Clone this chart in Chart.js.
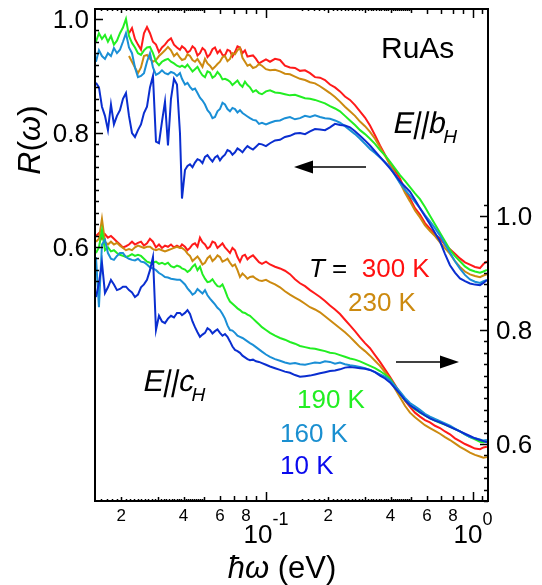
<!DOCTYPE html>
<html>
<head>
<meta charset="utf-8">
<script src="https://cdn.jsdelivr.net/npm/chart.js@4.4.0/dist/chart.umd.min.js"></script>
<style>
  html, body { margin: 0; padding: 0; background: #fff; }
</style>
</head>
<body>
<canvas id="chart" width="542" height="585"></canvas>
<script>
// photon energy (eV)
const energy = [0.01509, 0.01560, 0.01613, 0.01668, 0.01724, 0.01783, 0.01843, 0.01906, 0.01971, 0.02038,
  0.02107, 0.02179, 0.02253, 0.02329, 0.02408, 0.02490, 0.02574, 0.02662, 0.02752, 0.02845,
  0.02942, 0.03042, 0.03145, 0.03252, 0.03362, 0.03476, 0.03594, 0.03716, 0.03842, 0.03929,
  0.04062, 0.04177, 0.04295, 0.04416, 0.04540, 0.04668, 0.04799, 0.04935, 0.05074, 0.05217,
  0.05364, 0.05515, 0.05671, 0.05831, 0.05995, 0.06164, 0.06338, 0.06517, 0.06700, 0.06889,
  0.07084, 0.07284, 0.07489, 0.07700, 0.07917, 0.08140, 0.08370, 0.08655, 0.08950, 0.09252,
  0.09565, 0.1000, 0.1046, 0.1106, 0.1169, 0.1235, 0.1306, 0.1381, 0.1460, 0.1544,
  0.1632, 0.1725, 0.1824, 0.1928, 0.2038, 0.2155, 0.2278, 0.2408, 0.2546, 0.2692,
  0.2846, 0.3009, 0.3181, 0.3363, 0.3555, 0.3758, 0.3972, 0.4199, 0.4440, 0.4694,
  0.4963, 0.5246, 0.5546, 0.5863, 0.6199, 0.6553, 0.6928, 0.7324, 0.7743, 0.8186,
  0.8654, 0.9149, 0.9672, 1.0226, 1.081, 1.1237, 1.168];

// E||b_H, left axis
const bH300 = [null, null, null, null, null, null, null, null, null, null,
  null, 0.975, 0.984, 0.965, 0.955, 0.946, 0.975, 0.986, 0.975, 0.960,
  0.955, 0.942, 0.950, 0.955, 0.962, 0.966, 0.955, 0.950, 0.946, 0.952,
  0.948, 0.941, 0.944, 0.952, 0.948, 0.936, 0.940, 0.949, 0.945, 0.933,
  0.938, 0.947, 0.950, 0.940, 0.945, 0.937, 0.936, 0.946, 0.944, 0.934,
  0.942, 0.952, 0.950, 0.940, 0.945, 0.934, 0.935, 0.936, 0.930, 0.922,
  0.925, 0.929, 0.925, 0.930, 0.928, 0.918, 0.915, 0.914, 0.909, 0.910,
  0.905, 0.898, 0.897, 0.893, 0.885, 0.880, 0.873, 0.864, 0.858, 0.849,
  0.838, 0.827, 0.813, 0.796, 0.778, 0.762, 0.745, 0.734, 0.720, 0.700,
  0.685, 0.668, 0.657, 0.642, 0.632, 0.622, 0.615, 0.604, 0.596, 0.588,
  0.580, 0.573, 0.569, 0.565, 0.563, 0.570, 0.575];
const bH230 = [null, null, null, null, null, null, null, null, null, null,
  null, 0.935, 0.925, 0.915, 0.905, 0.915, 0.935, 0.937, 0.930, 0.925,
  0.928, 0.935, 0.940, 0.945, 0.951, 0.945, 0.935, 0.940, 0.932, 0.928,
  0.930, 0.938, 0.935, 0.928, 0.925, 0.930, 0.923, 0.916, 0.930, 0.922,
  0.918, 0.912, 0.916, 0.921, 0.925, 0.933, 0.935, 0.926, 0.930, 0.940,
  0.938, 0.945, 0.949, 0.932, 0.925, 0.918, 0.920, 0.914, 0.916, 0.921,
  0.918, 0.912, 0.910, 0.911, 0.908, 0.904, 0.903, 0.899, 0.895, 0.893,
  0.889, 0.887, 0.882, 0.876, 0.870, 0.863, 0.855, 0.846, 0.838, 0.830,
  0.820, 0.812, 0.802, 0.790, 0.775, 0.760, 0.745, 0.728, 0.713, 0.695,
  0.680, 0.664, 0.652, 0.638, 0.628, 0.619, 0.608, 0.598, 0.588, 0.575,
  0.565, 0.557, 0.552, 0.549, 0.547, 0.550, 0.552];
const bH190 = [0.960, 0.975, 0.965, 0.972, 0.960, 0.970, 0.955, 0.962, 0.975, 0.985,
  1.000, 0.970, 0.958, 0.950, 0.940, 0.937, 0.945, 0.950, 0.951, 0.940,
  0.925, 0.919, 0.925, 0.928, 0.930, 0.925, 0.922, 0.918, 0.916, 0.918,
  0.915, 0.920, 0.914, 0.908, 0.912, 0.916, 0.908, 0.901, 0.898, 0.908,
  0.906, 0.897, 0.900, 0.907, 0.902, 0.894, 0.895, 0.893, 0.890, 0.884,
  0.888, 0.892, 0.885, 0.881, 0.890, 0.884, 0.880, 0.872, 0.875, 0.870,
  0.868, 0.873, 0.875, 0.871, 0.870, 0.868, 0.866, 0.867, 0.864, 0.861,
  0.860, 0.858, 0.855, 0.852, 0.847, 0.843, 0.838, 0.830, 0.822, 0.814,
  0.805, 0.798, 0.790, 0.781, 0.770, 0.761, 0.750, 0.738, 0.726, 0.716,
  0.705, 0.694, 0.684, 0.670, 0.655, 0.640, 0.625, 0.610, 0.595, 0.584,
  0.575, 0.566, 0.560, 0.557, 0.555, 0.557, 0.560];
const bH160 = [0.925, 0.945, 0.935, 0.930, 0.940, 0.935, 0.949, 0.940, 0.946, 0.960,
  0.975, 0.950, 0.940, 0.915, 0.898, 0.900, 0.905, 0.925, 0.940, 0.915,
  0.902, 0.905, 0.910, 0.905, 0.903, 0.907, 0.905, 0.900, 0.905, 0.895,
  0.885, 0.888, 0.881, 0.876, 0.878, 0.870, 0.862, 0.857, 0.850, 0.840,
  0.835, 0.826, 0.828, 0.838, 0.842, 0.853, 0.850, 0.842, 0.838, 0.844,
  0.842, 0.836, 0.840, 0.835, 0.832, 0.829, 0.826, 0.823, 0.822, 0.816,
  0.818, 0.815, 0.818, 0.821, 0.822, 0.826, 0.828, 0.824, 0.826, 0.830,
  0.828, 0.831, 0.828, 0.826, 0.825, 0.822, 0.818, 0.812, 0.805, 0.798,
  0.790, 0.781, 0.772, 0.765, 0.757, 0.749, 0.740, 0.726, 0.712, 0.700,
  0.690, 0.679, 0.668, 0.656, 0.645, 0.633, 0.620, 0.605, 0.590, 0.575,
  0.562, 0.551, 0.543, 0.539, 0.537, 0.540, 0.542];
const bH10 = [0.888, 0.880, 0.846, 0.830, 0.805, 0.850, 0.815, 0.830, 0.840, 0.860,
  0.870, 0.830, 0.800, 0.793, 0.805, 0.815, 0.835, 0.846, 0.880, 0.900,
  0.785, 0.782, 0.820, 0.855, 0.778, 0.860, 0.895, 0.885, 0.800, 0.685,
  0.735, 0.742, 0.745, 0.740, 0.748, 0.754, 0.752, 0.747, 0.758, 0.761,
  0.755, 0.750, 0.757, 0.760, 0.752, 0.758, 0.762, 0.770, 0.768, 0.762,
  0.766, 0.773, 0.770, 0.766, 0.772, 0.777, 0.774, 0.771, 0.776, 0.781,
  0.780, 0.777, 0.782, 0.787, 0.788, 0.793, 0.795, 0.799, 0.800, 0.798,
  0.803, 0.807, 0.806, 0.805, 0.810, 0.816, 0.814, 0.813, 0.810, 0.803,
  0.795, 0.787, 0.778, 0.768, 0.758, 0.748, 0.738, 0.727, 0.715, 0.706,
  0.697, 0.683, 0.668, 0.654, 0.640, 0.625, 0.610, 0.588, 0.568, 0.555,
  0.545, 0.540, 0.536, 0.534, 0.533, 0.537, 0.542];

// E||c_H, right axis
const cH300 = [0.965, 0.970, 0.960, 0.968, 0.962, 0.965, 0.960, 0.955, 0.950, 0.945,
  0.947, 0.950, 0.955, 0.950, 0.953, 0.955, 0.948, 0.952, 0.960, 0.955,
  0.945, 0.950, 0.944, 0.948, 0.946, 0.950, 0.945, 0.948, 0.945, 0.950,
  0.946, 0.940, 0.944, 0.950, 0.952, 0.946, 0.962, 0.954, 0.950, 0.943,
  0.946, 0.955, 0.953, 0.944, 0.948, 0.952, 0.945, 0.940, 0.935, 0.944,
  0.940, 0.928, 0.920, 0.930, 0.932, 0.924, 0.928, 0.931, 0.925, 0.919,
  0.916, 0.920, 0.915, 0.911, 0.908, 0.904, 0.898, 0.889, 0.882, 0.877,
  0.870, 0.864, 0.858, 0.851, 0.843, 0.836, 0.828, 0.818, 0.808, 0.798,
  0.787, 0.777, 0.768, 0.756, 0.744, 0.731, 0.718, 0.704, 0.690, 0.676,
  0.665, 0.655, 0.648, 0.642, 0.638, 0.632, 0.628, 0.622, 0.617, 0.610,
  0.605, 0.600, 0.596, 0.592, 0.591, 0.594, 0.595];
const cH230 = [0.955, 0.960, 0.995, 0.955, 0.950, 0.955, 0.950, 0.953, 0.948, 0.944,
  0.940, 0.942, 0.940, 0.945, 0.948, 0.946, 0.944, 0.946, 0.946, 0.942,
  0.940, 0.942, 0.940, 0.938, 0.940, 0.942, 0.944, 0.946, 0.944, 0.944,
  0.940, 0.934, 0.930, 0.921, 0.925, 0.929, 0.923, 0.915, 0.918, 0.926,
  0.930, 0.921, 0.925, 0.931, 0.928, 0.920, 0.922, 0.925, 0.918, 0.912,
  0.915, 0.905, 0.893, 0.899, 0.895, 0.890, 0.893, 0.894, 0.890, 0.887,
  0.886, 0.888, 0.884, 0.880, 0.875, 0.868, 0.862, 0.857, 0.852, 0.846,
  0.840, 0.836, 0.831, 0.824, 0.817, 0.810, 0.803, 0.796, 0.788, 0.779,
  0.770, 0.763, 0.755, 0.746, 0.737, 0.726, 0.714, 0.697, 0.682, 0.667,
  0.655, 0.647, 0.640, 0.633, 0.628, 0.623, 0.618, 0.612, 0.607, 0.601,
  0.595, 0.590, 0.585, 0.581, 0.578, 0.576, 0.577];
const cH190 = [0.935, 0.945, 0.975, 0.940, 0.945, 0.938, 0.940, 0.935, 0.932, 0.930,
  0.928, 0.930, 0.933, 0.930, 0.932, 0.930, 0.925, 0.920, 0.918, 0.918,
  0.920, 0.916, 0.918, 0.915, 0.918, 0.912, 0.910, 0.913, 0.911, 0.908,
  0.906, 0.902, 0.905, 0.911, 0.915, 0.905, 0.911, 0.898, 0.890, 0.884,
  0.885, 0.889, 0.882, 0.877, 0.876, 0.880, 0.870, 0.858, 0.850, 0.846,
  0.842, 0.838, 0.835, 0.831, 0.830, 0.827, 0.825, 0.820, 0.815, 0.810,
  0.805, 0.800, 0.795, 0.790, 0.786, 0.783, 0.779, 0.776, 0.772, 0.770,
  0.768, 0.767, 0.765, 0.763, 0.760, 0.759, 0.756, 0.753, 0.750, 0.748,
  0.745, 0.741, 0.737, 0.733, 0.728, 0.722, 0.715, 0.702, 0.688, 0.677,
  0.668, 0.661, 0.655, 0.650, 0.645, 0.641, 0.637, 0.634, 0.630, 0.626,
  0.622, 0.617, 0.612, 0.608, 0.604, 0.603, 0.605];
const cH160 = [0.928, 0.840, 0.950, 0.958, 0.935, 0.925, 0.923, 0.930, 0.935, 0.935,
  0.928, 0.925, 0.923, 0.922, 0.925, 0.920, 0.919, 0.915, 0.910, 0.908,
  0.905, 0.900, 0.897, 0.893, 0.892, 0.890, 0.889, 0.888, 0.888, 0.885,
  0.880, 0.873, 0.868, 0.862, 0.865, 0.872, 0.868, 0.864, 0.870, 0.861,
  0.855, 0.850, 0.845, 0.839, 0.835, 0.828, 0.820, 0.808, 0.800, 0.799,
  0.795, 0.790, 0.788, 0.786, 0.783, 0.780, 0.777, 0.774, 0.770, 0.766,
  0.762, 0.757, 0.753, 0.749, 0.746, 0.743, 0.741, 0.742, 0.740, 0.739,
  0.741, 0.743, 0.742, 0.745, 0.744, 0.741, 0.743, 0.740, 0.738, 0.737,
  0.735, 0.733, 0.730, 0.726, 0.722, 0.718, 0.712, 0.702, 0.692, 0.681,
  0.672, 0.666, 0.660, 0.653, 0.648, 0.644, 0.640, 0.636, 0.632, 0.627,
  0.622, 0.617, 0.612, 0.610, 0.608, 0.606, 0.607];
const cH10 = [0.858, 0.882, 0.918, 0.865, 0.875, 0.888, 0.880, 0.870, 0.872, 0.876,
  0.876, 0.870, 0.866, 0.858, 0.862, 0.875, 0.880, 0.888, 0.905, 0.928,
  0.800, 0.825, 0.815, 0.812, 0.820, 0.825, 0.822, 0.830, 0.830, 0.826,
  0.830, 0.835, 0.828, 0.815, 0.805, 0.796, 0.788, 0.792, 0.795, 0.803,
  0.800, 0.794, 0.798, 0.801, 0.795, 0.790, 0.793, 0.788, 0.780, 0.771,
  0.765, 0.763, 0.760, 0.755, 0.752, 0.749, 0.747, 0.748, 0.745, 0.744,
  0.742, 0.739, 0.736, 0.733, 0.730, 0.727, 0.725, 0.721, 0.718, 0.719,
  0.720, 0.722, 0.724, 0.726, 0.728, 0.729, 0.731, 0.734, 0.735, 0.734,
  0.733, 0.732, 0.730, 0.726, 0.720, 0.715, 0.708, 0.698, 0.688, 0.677,
  0.668, 0.662, 0.656, 0.650, 0.645, 0.641, 0.638, 0.634, 0.630, 0.626,
  0.622, 0.618, 0.614, 0.610, 0.607, 0.605, 0.603];

const temps = ['300 K', '230 K', '190 K', '160 K', '10 K'];
const colors = ['#ff1a1a', '#cc8a10', '#22ee22', '#1a8fd6', '#0a2ed0'];
const labelColors = ['#ff1010', '#cc8a10', '#22ee22', '#1a8fd0', '#0a0aee'];

// axis ticks
const xLabelVals = [0.02, 0.04, 0.06, 0.08, 0.2, 0.4, 0.6, 0.8];
const xLabelText = ['2', '4', '6', '8', '2', '4', '6', '8'];
const xDecades = [0.1, 1];
const xDecadeExp = ['-1', '0'];
const yLeftTicks = [0.6, 0.8, 1.0];
const yRightTicks = [0.6, 0.8, 1.0];

const FONT = "'Liberation Sans', Arial, sans-serif";

function pts(arr) {
    return energy.map((e, i) => ({ x: e, y: arr[i] }));
}

function makeSet(arr, i, axis) {
    return {
        data: pts(arr),
        yAxisID: axis,
        borderColor: colors[i],
        borderWidth: 2,
        pointRadius: 0,
        tension: 0,
        spanGaps: false
    };
}

// 10 K first so it is drawn on top
const datasets = [
    makeSet(bH10, 4, 'y'), makeSet(bH160, 3, 'y'), makeSet(bH190, 2, 'y'),
    makeSet(bH230, 1, 'y'), makeSet(bH300, 0, 'y'),
    makeSet(cH10, 4, 'y2'), makeSet(cH160, 3, 'y2'), makeSet(cH190, 2, 'y2'),
    makeSet(cH230, 1, 'y2'), makeSet(cH300, 0, 'y2')
];

function textRuns(ctx, parts, x, y, align) {
    let w = 0;
    parts.forEach(p => { ctx.font = p.f; w += ctx.measureText(p.t).width; });
    let cx = align === 'center' ? x - w / 2 : (align === 'right' ? x - w : x);
    parts.forEach(p => {
        ctx.font = p.f;
        ctx.fillStyle = p.c || '#000';
        ctx.fillText(p.t, cx, y + (p.dy || 0));
        cx += ctx.measureText(p.t).width;
    });
}

// oblique text, so the parallel bars lean like the letters
function slanted(ctx, parts, x, y) {
    ctx.save();
    ctx.translate(x, y);
    ctx.transform(1, 0, -0.21, 1, 0, 0);
    textRuns(ctx, parts, 0, 0, 'left');
    ctx.restore();
}

function arrow(ctx, x1, x2, y) {
    const dir = x2 > x1 ? 1 : -1;
    ctx.strokeStyle = '#000';
    ctx.fillStyle = '#000';
    ctx.lineWidth = 1.5;
    ctx.beginPath();
    ctx.moveTo(x1, y);
    ctx.lineTo(x2 - dir * 14, y);
    ctx.stroke();
    ctx.beginPath();
    ctx.moveTo(x2, y);
    ctx.lineTo(x2 - dir * 19, y - 6.5);
    ctx.lineTo(x2 - dir * 19, y + 6.5);
    ctx.closePath();
    ctx.fill();
}

function xTickList() {
    const out = [];
    for (let v = 15; v <= 50; v++) out.push([v / 1000, v % 10 === 0 ? 4 : 2]);
    for (let v = 6; v <= 10; v++) out.push([v / 100, v === 10 ? 9 : 5]);
    for (let v = 15; v <= 50; v++) out.push([v / 100, v % 10 === 0 ? 4 : 2]);
    for (let v = 6; v <= 11; v++) out.push([v / 10, v === 10 ? 9 : 5]);
    return out;
}

const frame = {
    id: 'frame',
    afterDraw(chart) {
        const ctx = chart.ctx;
        const a = chart.chartArea;
        const sx = chart.scales.x, sy = chart.scales.y, sy2 = chart.scales.y2;
        ctx.save();
        ctx.strokeStyle = '#000';
        ctx.lineWidth = 2;
        ctx.strokeRect(a.left, a.top, a.right - a.left, a.bottom - a.top);

        // x ticks, bottom and top, pointing inward
        ctx.lineWidth = 1.5;
        ctx.beginPath();
        xTickList().forEach(([v, len]) => {
            const px = Math.round(sx.getPixelForValue(v)) + 0.5;
            if (px <= a.left + 1 || px >= a.right - 1) return;
            ctx.moveTo(px, a.bottom);
            ctx.lineTo(px, a.bottom - len);
            ctx.moveTo(px, a.top);
            ctx.lineTo(px, a.top + len);
        });
        ctx.stroke();

        // y ticks
        ctx.beginPath();
        for (let k = 27; k <= 50; k++) {
            const py = Math.round(sy.getPixelForValue(k * 0.02)) + 0.5;
            const len = (k % 10 === 0) ? 8 : 4;
            ctx.moveTo(a.left, py);
            ctx.lineTo(a.left + len, py);
        }
        for (let k = 25; k <= 51; k++) {
            const py = Math.round(sy2.getPixelForValue(k * 0.02)) + 0.5;
            const len = (k % 10 === 0) ? 8 : 4;
            ctx.moveTo(a.right, py);
            ctx.lineTo(a.right - len, py);
        }
        ctx.stroke();

        // tick labels
        ctx.textBaseline = 'alphabetic';
        ctx.fillStyle = '#000';
        ctx.font = '26px ' + FONT;
        ctx.textAlign = 'right';
        yLeftTicks.forEach(v => ctx.fillText(v.toFixed(1), a.left - 6, sy.getPixelForValue(v) + 9));
        ctx.textAlign = 'left';
        yRightTicks.forEach(v => ctx.fillText(v.toFixed(1), a.right + 8, sy2.getPixelForValue(v) + 9));

        ctx.font = '17px ' + FONT;
        ctx.textAlign = 'center';
        xLabelVals.forEach((v, i) => ctx.fillText(xLabelText[i], sx.getPixelForValue(v), a.bottom + 20));
        ctx.textAlign = 'left';
        xDecades.forEach((v, i) => {
            textRuns(ctx, [
                { t: '10', f: '26px ' + FONT },
                { t: xDecadeExp[i], f: '18px ' + FONT, dy: -18 }
            ], sx.getPixelForValue(v), a.bottom + 42, 'center');
        });

        // axis titles
        textRuns(ctx, [
            { t: 'ħω', f: 'italic 31px ' + FONT },
            { t: ' (eV)', f: '31px ' + FONT }
        ], 282, 578, 'center');

        ctx.save();
        ctx.translate(40, 140);
        ctx.rotate(-Math.PI / 2);
        textRuns(ctx, [
            { t: 'R', f: 'italic 32px ' + FONT },
            { t: '(', f: '32px ' + FONT },
            { t: 'ω', f: 'italic 32px ' + FONT },
            { t: ')', f: '32px ' + FONT }
        ], 0, 0, 'center');
        ctx.restore();

        // annotations
        textRuns(ctx, [{ t: 'RuAs', f: '30px ' + FONT }], 381, 58, 'left');
        slanted(ctx, [
            { t: 'E||b', f: '30px ' + FONT },
            { t: 'H', f: '19px ' + FONT, dy: 10 }
        ], 392, 133);
        slanted(ctx, [
            { t: 'E||c', f: '30px ' + FONT },
            { t: 'H', f: '19px ' + FONT, dy: 10 }
        ], 142, 391);
        textRuns(ctx, [
            { t: 'T', f: 'italic 26px ' + FONT },
            { t: ' =  ', f: '26px ' + FONT },
            { t: temps[0], f: '26px ' + FONT, c: labelColors[0] }
        ], 309, 277, 'left');
        textRuns(ctx, [{ t: temps[1], f: '26px ' + FONT, c: labelColors[1] }], 348, 311, 'left');
        textRuns(ctx, [{ t: temps[2], f: '26px ' + FONT, c: labelColors[2] }], 297, 408, 'left');
        textRuns(ctx, [{ t: temps[3], f: '26px ' + FONT, c: labelColors[3] }], 280, 442, 'left');
        textRuns(ctx, [{ t: temps[4], f: '26px ' + FONT, c: labelColors[4] }], 280, 474, 'left');

        arrow(ctx, 366, 294, 167);
        arrow(ctx, 396, 459, 362);
        ctx.restore();
    }
};

new Chart(document.getElementById('chart'), {
    type: 'line',
    data: { datasets },
    options: {
        responsive: false,
        animation: false,
        devicePixelRatio: 1,
        layout: { padding: { left: 95, right: 54, top: 9, bottom: 84 } },
        plugins: { legend: { display: false }, tooltip: { enabled: false } },
        scales: {
            x: { type: 'logarithmic', min: 0.01493, max: 1.182, display: false },
            y: { type: 'linear', position: 'left', min: 0.1544, max: 1.0175, display: false },
            y2: { type: 'linear', position: 'right', min: 0.5, max: 1.3632, display: false }
        }
    },
    plugins: [frame]
});
</script>
</body>
</html>
